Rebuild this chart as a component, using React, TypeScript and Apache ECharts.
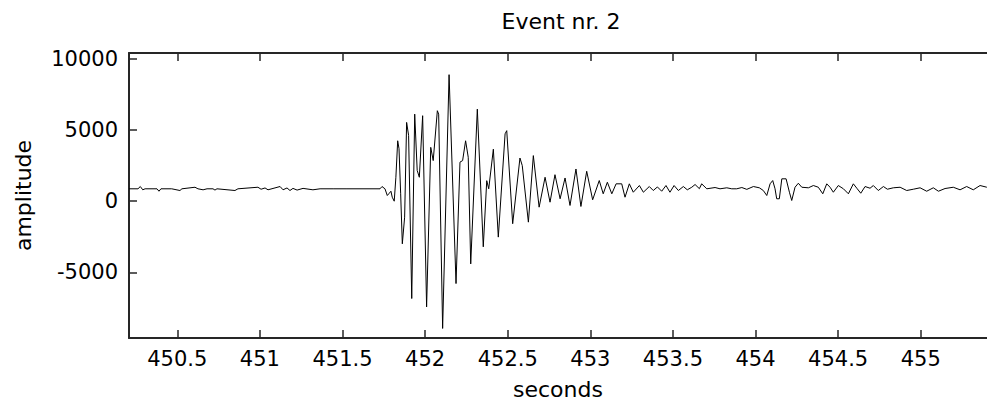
import React, { useEffect, useRef } from "react";
import * as echarts from "echarts";

const TITLE = "Event nr. 2";
const X_NAME = "seconds";
const Y_NAME = "amplitude";

const X_MIN = 450.2076;
const X_MAX = 455.401;
const Y_MIN = -9600;
const Y_MAX = 10400;

const xTicks = [450.5, 451, 451.5, 452, 452.5, 453, 453.5, 454, 454.5, 455];
const yTicks = [-5000, 0, 5000, 10000];

const times = [
  450.208, 450.262, 450.276, 450.291, 450.305, 450.377, 450.389, 450.401, 450.466, 450.516,
  450.528, 450.607, 450.625, 450.656, 450.68, 450.716, 450.728, 450.74, 450.849, 450.867,
  450.988, 451.007, 451.031, 451.049, 451.122, 451.14, 451.164, 451.182, 451.2, 451.225,
  451.261, 451.321, 451.364, 451.443, 451.527, 451.727, 451.739, 451.757, 451.771, 451.783,
  451.793, 451.801, 451.813, 451.823, 451.834, 451.842, 451.852, 451.862, 451.876, 451.888,
  451.9, 451.919, 451.937, 451.952, 451.965, 451.985, 452.009, 452.034, 452.049, 452.074,
  452.082, 452.106, 452.145, 452.187, 452.211, 452.227, 452.245, 452.261, 452.276, 452.316,
  452.352, 452.373, 452.385, 452.413, 452.443, 452.484, 452.494, 452.53, 452.574, 452.588,
  452.625, 452.655, 452.69, 452.726, 452.756, 452.786, 452.817, 452.847, 452.877, 452.913,
  452.943, 452.978, 453.014, 453.054, 453.078, 453.103, 453.13, 453.156, 453.19, 453.21,
  453.236, 453.26, 453.297, 453.321, 453.357, 453.381, 453.406, 453.432, 453.458, 453.482,
  453.507, 453.533, 453.563, 453.587, 453.614, 453.634, 453.66, 453.674, 453.705, 453.755,
  453.785, 453.826, 453.856, 453.886, 453.917, 453.947, 453.987, 454.023, 454.047, 454.068,
  454.088, 454.104, 454.118, 454.128, 454.144, 454.159, 454.185, 454.205, 454.219, 454.239,
  454.259, 454.28, 454.32, 454.35, 454.38, 454.407, 454.431, 454.451, 454.471, 454.501,
  454.532, 454.562, 454.592, 454.613, 454.637, 454.663, 454.693, 454.713, 454.743, 454.774,
  454.798, 454.834, 454.875, 454.915, 454.955, 454.996, 455.036, 455.076, 455.107, 455.147,
  455.197, 455.238, 455.278, 455.318, 455.359, 455.4,
];

const amplitudes = [
  870, 870, 1030, 800, 870, 870, 700, 870, 870, 750,
  870, 980, 870, 800, 870, 870, 780, 870, 750, 870,
  980, 840, 930, 800, 1030, 800, 930, 750, 900, 780,
  900, 800, 870, 870, 870, 870, 1030, 870, 400, 560,
  700, 280, 0, 1680, 4240, 3680, 520, -2990, -1120, 5530,
  4620, -6830, 6110, 2160, 1680, 6000, -7420, 3780, 2850, 6350,
  6110, -8930, 8880, -5780, 2740, 2850, 4240, 3080, -4400, 6460,
  -3200, 1440, 870, 3650, -2520, 4730, 4950, -1580, 3030, 2500,
  -1470, 3200, -420, 1680, -70, 1860, 170, 1630, -300, 2260,
  -370, 2100, 100, 1450, 520, 1330, 520, 1220, 1220, 280,
  1220, 630, 1100, 630, 1030, 750, 1000, 700, 1100, 630,
  1100, 750, 1030, 800, 980, 1170, 880, 1220, 870, 960,
  870, 940, 870, 870, 960, 830, 1030, 940, 750, 400,
  1220, 1450, 870, 170, 170, 1570, 1570, 630, 50, 980,
  1260, 980, 940, 1100, 980, 520, 1220, 980, 630, 1100,
  870, 520, 1220, 910, 560, 1030, 910, 1100, 750, 1030,
  840, 940, 980, 750, 840, 940, 700, 940, 700, 890,
  980, 800, 1030, 800, 1100, 980,
];

const FONT = "DejaVu Sans";
const AXIS_COLOR = "#262626";

export default function App() {
  const ref = useRef<HTMLDivElement>(null);

  useEffect(() => {
    if (!ref.current) return;
    const chart = echarts.init(ref.current, undefined, { renderer: "svg" });
    const data = times.map((t, i) => [t, amplitudes[i]]);

    const tickLabelStyle = { color: "#000", fontFamily: FONT, fontSize: 21 };

    chart.setOption({
      animation: false,
      backgroundColor: "#fff",
      grid: { left: 129, right: -1, top: 53, bottom: 67, show: false },
      graphic: [
        {
          type: "text",
          x: 561,
          y: 21,
          style: {
            text: TITLE,
            fill: "#000",
            font: `22px "${FONT}"`,
            textAlign: "center",
            textVerticalAlign: "middle",
          },
        },
      ],
      xAxis: [
        {
          type: "value",
          min: X_MIN,
          max: X_MAX,
          position: "bottom",
          name: X_NAME,
          nameLocation: "middle",
          nameGap: 40,
          nameTextStyle: { color: "#000", fontFamily: FONT, fontSize: 22 },
          axisLine: { show: true, onZero: false, lineStyle: { color: AXIS_COLOR, width: 2 } },
          axisTick: {
            show: true,
            inside: true,
            length: 8,
            customValues: xTicks,
            lineStyle: { color: AXIS_COLOR, width: 1.5 },
          },
          axisLabel: {
            ...tickLabelStyle,
            margin: 10,
            customValues: xTicks,
            formatter: (v: number) => String(v),
          },
          splitLine: { show: false },
        },
        {
          type: "value",
          min: X_MIN,
          max: X_MAX,
          position: "top",
          axisLine: { show: true, onZero: false, lineStyle: { color: AXIS_COLOR, width: 2 } },
          axisTick: {
            show: true,
            inside: true,
            length: 8,
            customValues: xTicks,
            lineStyle: { color: AXIS_COLOR, width: 1.5 },
          },
          axisLabel: { show: false },
          splitLine: { show: false },
        },
      ],
      yAxis: [
        {
          type: "value",
          min: Y_MIN,
          max: Y_MAX,
          position: "left",
          name: Y_NAME,
          nameLocation: "middle",
          nameGap: 95,
          nameTextStyle: { color: "#000", fontFamily: FONT, fontSize: 22 },
          axisLine: { show: true, onZero: false, lineStyle: { color: AXIS_COLOR, width: 2 } },
          axisTick: {
            show: true,
            inside: true,
            length: 8,
            customValues: yTicks,
            lineStyle: { color: AXIS_COLOR, width: 1.5 },
          },
          axisLabel: {
            ...tickLabelStyle,
            margin: 11,
            customValues: yTicks,
            formatter: (v: number) => String(v),
          },
          splitLine: { show: false },
        },
      ],
      series: [
        {
          type: "line",
          xAxisIndex: 0,
          yAxisIndex: 0,
          data,
          showSymbol: false,
          symbol: "none",
          smooth: false,
          clip: true,
          lineStyle: { color: "#000", width: 1 },
        },
      ],
    });

    return () => chart.dispose();
  }, []);

  return (
    <div
      ref={ref}
      style={{ position: "absolute", left: 0, top: 0, width: 987, height: 405, background: "#fff" }}
    />
  );
}
